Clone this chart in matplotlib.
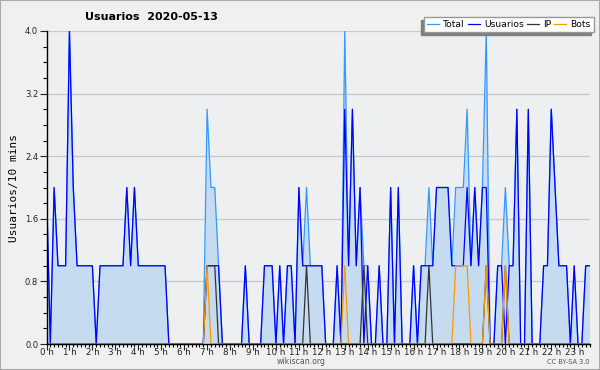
import matplotlib
import numpy as np

matplotlib.use("Agg")
import matplotlib.pyplot as plt  # noqa: E402
from matplotlib.patches import Rectangle  # noqa: E402

# users per 10-minute slot, one row per hour (last row ends at 23:40)
total_rows = [
    [2, 0, 2, 1, 1, 1], [4, 2, 1, 1, 1, 1], [1, 0, 1, 1, 1, 1], [1, 1, 1, 2, 1, 2],
    [1, 1, 1, 1, 1, 1], [1, 1, 0, 0, 0, 0], [0, 0, 0, 0, 0, 0], [3, 2, 2, 1, 0, 0],
    [0, 0, 0, 0, 1, 0], [0, 0, 0, 1, 1, 1], [0, 1, 0, 1, 1, 0], [2, 1, 2, 1, 1, 1],
    [1, 0, 0, 0, 1, 0], [4, 1, 3, 1, 2, 1], [1, 0, 0, 1, 0, 0], [2, 0, 2, 0, 0, 0],
    [1, 0, 1, 1, 2, 1], [2, 2, 2, 2, 1, 2], [2, 2, 3, 1, 2, 1], [2, 4, 0, 0, 1, 1],
    [2, 1, 1, 3, 0, 0], [3, 0, 0, 0, 1, 1], [3, 2, 1, 1, 1, 0], [1, 0, 0, 1, 1],
]
usuarios_rows = [
    [2, 0, 2, 1, 1, 1], [4, 2, 1, 1, 1, 1], [1, 0, 1, 1, 1, 1], [1, 1, 1, 2, 1, 2],
    [1, 1, 1, 1, 1, 1], [1, 1, 0, 0, 0, 0], [0, 0, 0, 0, 0, 0], [1, 1, 1, 1, 0, 0],
    [0, 0, 0, 0, 1, 0], [0, 0, 0, 1, 1, 1], [0, 1, 0, 1, 1, 0], [2, 1, 1, 1, 1, 1],
    [1, 0, 0, 0, 1, 0], [3, 1, 3, 1, 2, 0], [1, 0, 0, 1, 0, 0], [2, 0, 2, 0, 0, 0],
    [1, 0, 1, 1, 1, 1], [2, 2, 2, 2, 1, 1], [1, 1, 2, 1, 2, 1], [2, 2, 0, 0, 1, 1],
    [0, 1, 1, 3, 0, 0], [3, 0, 0, 0, 1, 1], [3, 2, 1, 1, 1, 0], [1, 0, 0, 1, 1],
]
ip_rows = [
    [0] * 6, [0] * 6, [0] * 6, [0] * 6, [0] * 6, [0] * 6, [0] * 6, [1, 1, 1, 0, 0, 0],
    [0] * 6, [0] * 6, [0] * 6, [0, 0, 1, 0, 0, 0], [0] * 6, [0, 0, 0, 0, 0, 1],
    [0] * 6, [0] * 6, [0, 0, 0, 0, 1, 0], [0] * 6, [0] * 6, [0, 1, 0, 0, 0, 0],
    [1, 0, 0, 0, 0, 0], [0] * 6, [0] * 6, [0] * 5,
]
bots_rows = [
    [0] * 6, [0] * 6, [0] * 6, [0] * 6, [0] * 6, [0] * 6, [0] * 6, [1, 0, 0, 0, 0, 0],
    [0] * 6, [0] * 6, [0] * 6, [0] * 6, [0] * 6, [1, 0, 0, 0, 0, 0], [0] * 6, [0] * 6,
    [0] * 6, [0, 0, 0, 0, 0, 1], [1, 1, 1, 0, 0, 0], [0, 1, 0, 0, 0, 0],
    [1, 0, 0, 0, 0, 0], [0] * 6, [0] * 6, [0] * 5,
]
hour_labels = [f"{h} h" for h in range(24)]
y_ticks = [0.0, 0.8, 1.6, 2.4, 3.2, 4.0]

total = np.concatenate(total_rows)
usuarios = np.concatenate(usuarios_rows)
ip = np.concatenate(ip_rows)
bots = np.concatenate(bots_rows)
x = np.arange(len(total))

W, H = 600, 370
fig = plt.figure(figsize=(W / 100, H / 100), dpi=100, facecolor="#f0f0f0")
ax = fig.add_axes([46.5 / W, 1 - 344 / H, (589.5 - 46.5) / W, (344 - 31) / H])
ax.set_facecolor("#eeeff1")

ax.fill_between(x, total, 0, color="#c5dbef", lw=0, zorder=2)
l_tot, = ax.plot(x, total, color="#3399ff", lw=0.9, zorder=3)
l_usr, = ax.plot(x, usuarios, color="#0000ff", lw=0.9, zorder=4)
l_ip, = ax.plot(x, ip, color="#333333", lw=0.9, zorder=5)
l_bot, = ax.plot(x, bots, color="#ff9900", lw=0.9, zorder=6)

ax.set_xlim(0, len(x) - 1)
ax.set_ylim(0, 4.0)
ax.set_xticks(np.arange(0, len(x), 6))
ax.set_xticklabels(hour_labels)
ax.set_xticks(x, minor=True)
ax.set_yticks(y_ticks)
ax.set_yticklabels([f"{v:.1f}" for v in y_ticks])
ax.set_yticks(np.arange(0, 4.01, 0.2), minor=True)
ax.tick_params(axis="x", which="major", length=4.5, width=0.8, labelsize=6.3, pad=-1.5,
               colors="#222222")
ax.tick_params(axis="x", which="minor", length=2.5, width=0.8)
ax.tick_params(axis="y", which="major", length=5, width=0.8, labelsize=6, pad=1,
               colors="#222222")
ax.tick_params(axis="y", which="minor", length=3, width=0.8)
ax.grid(axis="y", color="#c8c8c8", lw=0.9, zorder=1)
ax.set_axisbelow(True)
for s in ("top", "right"):
    ax.spines[s].set_visible(False)
for s in ("left", "bottom"):
    ax.spines[s].set_color("black")
    ax.spines[s].set_linewidth(1.0)
    ax.spines[s].set_zorder(7)

ax.set_ylabel("Usuarios/10 mins", family="DejaVu Sans Mono", fontsize=8, labelpad=4)
fig.text(151 / W, 1 - 17 / H, "Usuarios  2020-05-13", ha="center", va="center",
         fontsize=8, fontweight="bold")
fig.text(301 / W, 1 - 362 / H, "wikiscan.org", ha="center", va="center",
         fontsize=5.6, color="#555555")
fig.text(590 / W, 1 - 362.5 / H, "CC BY-SA 3.0", ha="right", va="center",
         fontsize=4.8, color="#555555")

ax.legend([l_tot, l_usr, l_ip, l_bot], ["Total", "Usuarios", "IP", "Bots"], ncol=4,
          loc="upper right", bbox_to_anchor=(593.5 / W, 1 - 17 / H),
          bbox_transform=fig.transFigure, frameon=True, fancybox=False, framealpha=1,
          facecolor="white", edgecolor="#999999", fontsize=6.6, handlelength=1.3,
          handletextpad=0.5, columnspacing=0.3, borderpad=0.3, borderaxespad=0,
          shadow={"ox": -2, "oy": -2.2, "facecolor": "#808080", "edgecolor": "#808080",
                  "alpha": 1})

fig.patches.append(Rectangle((0, 0), 1, 1, transform=fig.transFigure, fill=False,
                             edgecolor="#aaaaaa", lw=1.5))
fig.savefig("out.png", dpi=100, facecolor=fig.get_facecolor())
